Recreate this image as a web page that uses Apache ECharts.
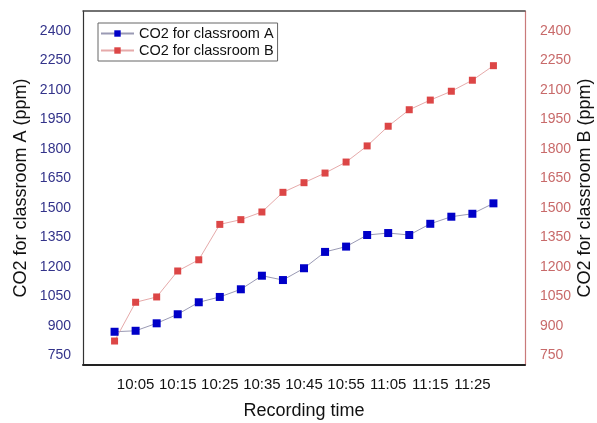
<!DOCTYPE html>
<html>
<head>
<meta charset="utf-8">
<script src="https://cdn.jsdelivr.net/npm/echarts@6/dist/echarts.min.js"></script>
<style>
  html, body { margin: 0; padding: 0; background: #fff; }
  #chart { width: 597px; height: 423px; }
</style>
</head>
<body>
<div id="chart"></div>
<script>
// recording times, one reading every 5 minutes
const times = ['10:00', '10:05', '10:10', '10:15', '10:20', '10:25', '10:30', '10:35', '10:40', '10:45',
               '10:50', '10:55', '11:00', '11:05', '11:10', '11:15', '11:20', '11:25', '11:30'];
const co2A = [869, 874, 912, 958, 1019, 1046, 1085, 1154, 1132, 1192,
              1275, 1302, 1361, 1371, 1361, 1418, 1454, 1469, 1522];
const co2B = [822, 1019, 1046, 1178, 1235, 1415, 1439, 1478, 1578, 1627,
              1676, 1732, 1814, 1914, 1998, 2047, 2092, 2148, 2222];
const timeLabels = ['10:05', '10:15', '10:25', '10:35', '10:45', '10:55', '11:05', '11:15', '11:25'];
const yTicks = [750, 900, 1050, 1200, 1350, 1500, 1650, 1800, 1950, 2100, 2250, 2400];

const FONT = '"Liberation Sans", Arial, sans-serif';

function toMin(t) {
    let p = t.split(':');
    return parseInt(p[0]) * 60 + parseInt(p[1]);
}
function toLabel(m) {
    let h = Math.floor(m / 60), mm = Math.round(m % 60);
    return h + ':' + (mm < 10 ? '0' : '') + mm;
}

let chart = echarts.init(document.getElementById('chart'));

let xMin = toMin(times[0]) - 7.5;
let xMax = toMin(times[times.length - 1]) + 7.5;

let option = {
    animation: false,
    backgroundColor: '#fff',
    textStyle: { fontFamily: FONT },
    grid: {
        left: 83,
        right: 72,
        top: 11,
        bottom: 58,
        outerBoundsMode: 'none'
    },
    legend: {
        orient: 'vertical',
        left: 98,
        top: 23,
        padding: [3, 4, 3, 2],
        itemGap: 2,
        itemWidth: 33,
        itemHeight: 8,
        borderColor: '#666',
        borderWidth: 1,
        textStyle: { fontFamily: FONT, fontSize: 14.5, color: '#111' },
        data: ['CO2 for classroom A', 'CO2 for classroom B']
    },
    xAxis: [
        {
            type: 'value',
            min: xMin,
            max: xMax,
            name: 'Recording time',
            nameLocation: 'middle',
            nameGap: 37,
            nameMoveOverlap: false,
            nameTextStyle: { fontFamily: FONT, fontSize: 18, color: '#111' },
            axisLine: { lineStyle: { color: '#222', width: 2 } },
            axisTick: { show: false },
            splitLine: { show: false },
            axisLabel: {
                customValues: timeLabels.map(toMin),
                formatter: function (v) { return toLabel(v); },
                fontFamily: FONT,
                fontSize: 15,
                color: '#111',
                margin: 12
            }
        },
        {
            type: 'value',
            position: 'top',
            min: xMin,
            max: xMax,
            axisLine: { lineStyle: { color: '#444', width: 1.5 } },
            axisTick: { show: false },
            axisLabel: { show: false },
            splitLine: { show: false }
        }
    ],
    yAxis: [
        {
            type: 'value',
            min: 700,
            max: 2500,
            name: 'CO2 for classroom A (ppm)',
            nameLocation: 'middle',
            nameGap: 53,
            nameMoveOverlap: false,
            nameTextStyle: { fontFamily: FONT, fontSize: 18, color: '#111' },
            axisLine: { show: true, lineStyle: { color: '#333', width: 1.2 } },
            axisTick: { show: false },
            splitLine: { show: false },
            axisLabel: {
                customValues: yTicks,
                formatter: function (v) { return String(v); },
                fontFamily: FONT,
                fontSize: 14,
                color: '#33338a',
                margin: 12
            }
        },
        {
            type: 'value',
            min: 700,
            max: 2500,
            position: 'right',
            name: 'CO2 for classroom B (ppm)',
            nameLocation: 'middle',
            nameGap: 51,
            nameMoveOverlap: false,
            nameTextStyle: { fontFamily: FONT, fontSize: 18, color: '#111' },
            axisLine: { show: true, lineStyle: { color: '#c97a7a', width: 1.2 } },
            axisTick: { show: false },
            splitLine: { show: false },
            axisLabel: {
                customValues: yTicks,
                formatter: function (v) { return String(v); },
                fontFamily: FONT,
                fontSize: 14,
                color: '#c86a6a',
                margin: 15
            }
        }
    ],
    series: [
        {
            name: 'CO2 for classroom A',
            type: 'line',
            yAxisIndex: 0,
            symbol: 'rect',
            symbolSize: 8,
            itemStyle: { color: '#0000c8' },
            lineStyle: { color: '#9a9ab4', width: 1 },
            data: times.map((t, i) => [toMin(t), co2A[i]])
        },
        {
            name: 'CO2 for classroom B',
            type: 'line',
            yAxisIndex: 1,
            symbol: 'rect',
            symbolSize: 7,
            itemStyle: { color: '#dc4646' },
            lineStyle: { color: '#e6aaaa', width: 1 },
            data: times.map((t, i) => [toMin(t), co2B[i]])
        }
    ]
};

chart.setOption(option);

window.addEventListener('resize', function () {
    chart.resize();
});
</script>
</body>
</html>
